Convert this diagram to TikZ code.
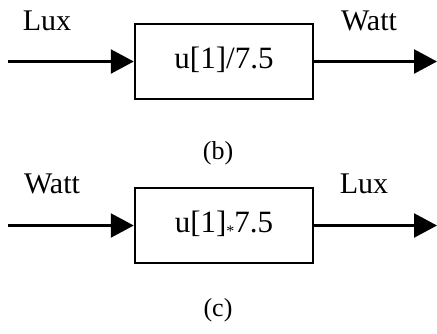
\documentclass[tikz,border=0pt]{standalone}
\usepackage{fontspec}
\setmainfont{Liberation Serif}
\usetikzlibrary{arrows.meta}
\begin{document}
\begin{tikzpicture}[x=1pt,y=-1pt,
  blk/.style={draw,line width=2.5pt,minimum width=178pt,minimum height=75pt,inner sep=0pt},
  lbl/.style={anchor=base,inner sep=0pt,font=\fontsize{30}{30}\selectfont},
  mtxt/.style={anchor=base,inner sep=0pt,font=\fontsize{31}{31}\selectfont},
  figcap/.style={anchor=base,inner sep=0pt,font=\fontsize{26}{26}\selectfont},
  sig/.style={line width=2.5pt,-{Triangle[length=23pt,width=24pt]}}]
\useasboundingbox (0,0) rectangle (437,333);
% (b)
\node[blk] (b1) at (224,61.5) {};
\node[mtxt] (b1t) at (224,68.5) {u[1]/7.5};
\coordinate (b1in) at (8,61.5);
\coordinate (b1out) at (437,61.5);
\draw[sig] (b1in) -- (b1.west);
\draw[sig] (b1.east) -- (b1out);
\node[lbl] (luxb) at (47,30) {Lux};
\node[lbl] (wattb) at (369,30) {Watt};
\node[figcap] (capb) at (218,159) {(b)};
% (c)
\node[blk] (c1) at (224,225.5) {};
\node[mtxt] (c1t) at (224,232.5) {u[1]{\fontsize{16}{16}\selectfont\raisebox{-3.5pt}{*}}7.5};
\coordinate (c1in) at (8,225.5);
\coordinate (c1out) at (437,225.5);
\draw[sig] (c1in) -- (c1.west);
\draw[sig] (c1.east) -- (c1out);
\node[lbl] (wattc) at (52,193) {Watt};
\node[lbl] (luxc) at (364,193) {Lux};
\node[figcap] (capc) at (218,316) {(c)};
\end{tikzpicture}
\end{document}
